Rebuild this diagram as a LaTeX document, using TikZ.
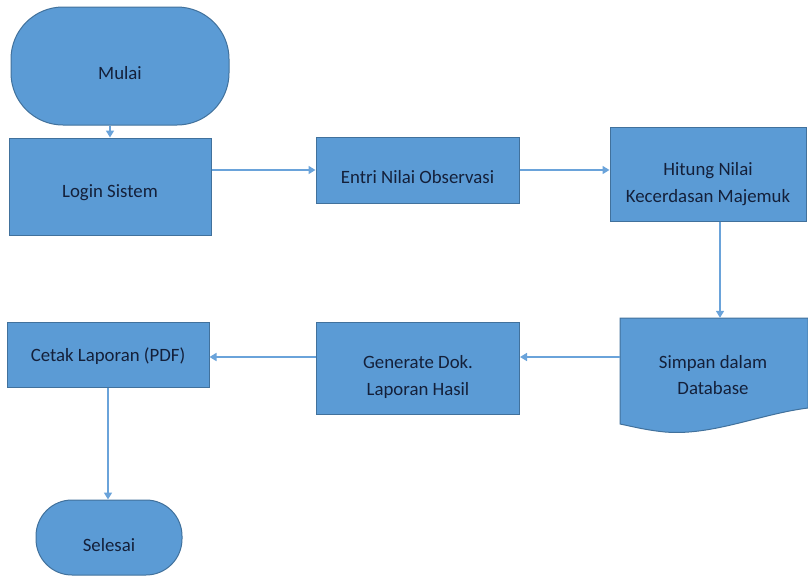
\documentclass[tikz,border=0pt]{standalone}
\usepackage{fontspec}
\setmainfont{Carlito}
\usetikzlibrary{arrows.meta,calc}
\definecolor{boxfill}{HTML}{5B9BD5}
\definecolor{boxline}{HTML}{41719C}
\definecolor{linkblue}{HTML}{6AA3DA}
\definecolor{labeltext}{HTML}{14203A}
\begin{document}
\begin{tikzpicture}[x=1pt,y=-1pt,
  shapebox/.style={draw=boxline, fill=boxfill, line width=1pt, inner sep=0pt},
  ghost/.style={draw=none, inner sep=0pt},
  lbl/.style={text=labeltext, font=\fontsize{18.8}{26.5}\selectfont, align=center, inner sep=0pt},
  link/.style={draw=linkblue, line width=1.6pt, -{Triangle[length=7pt,width=8pt]}}]
\useasboundingbox (0,0) rectangle (808,576);

% terminators
\node[shapebox, rounded corners=52pt, minimum width=218pt, minimum height=118pt] (mulai) at (120,66) {};
\node[lbl] (mulaiT) at (120,73) {Mulai};
\node[shapebox, rounded corners=36pt, minimum width=146pt, minimum height=75pt] (selesai) at (109,537.5) {};
\node[lbl] (selesaiT) at (109,545) {Selesai};

% process steps
\node[shapebox, minimum width=202pt, minimum height=97pt] (login) at (110,186.5) {};
\node[lbl] (loginT) at (110,193) {Login Sistem};

\node[shapebox, minimum width=203pt, minimum height=66pt] (entri) at (417.5,170) {};
\node[lbl] (entriT) at (417.5,177) {Entri Nilai Observasi};

\node[shapebox, minimum width=196pt, minimum height=94pt] (hitung) at (708,174) {};
\node[lbl] (hitungT) at (708,184) {Hitung Nilai\\Kecerdasan Majemuk};

\node[shapebox, minimum width=203pt, minimum height=92pt] (generate) at (418,368) {};
\node[lbl] (generateT) at (418,377) {Generate Dok.\\Laporan Hasil};

\node[shapebox, minimum width=202pt, minimum height=65pt] (cetak) at (108,355) {};
\node[lbl] (cetakT) at (108,356) {Cetak Laporan (PDF)};

% document shape with a wavy lower edge
\node[ghost, minimum width=188pt, minimum height=106pt] (simpan) at (714,371) {};
\draw[shapebox] (620,318) -- (808,318) -- (808,408)
  .. controls (760,414) and (712,436) .. (665,432)
  .. controls (645,430) and (630,426) .. (620,424) -- cycle;
\node[lbl] (simpanT) at (713,375) {Simpan dalam\\Database};

% connectors
\coordinate (dropx) at (720,0);
\draw[link] (login.north |- mulai.south) -- (login.north);
\draw[link] (login.east |- entri.west) -- (entri.west);
\draw[link] (entri.east) -- (hitung.west |- entri.east);
\draw[link] (hitung.south -| dropx) -- (simpan.north -| dropx);
\draw[link] (simpan.west |- 0,357) -- (generate.east |- 0,357);
\draw[link] (generate.west |- 0,357) -- (cetak.east |- 0,357);
\draw[link] (cetak.south) -- (cetak.south |- selesai.north);
\end{tikzpicture}
\end{document}
